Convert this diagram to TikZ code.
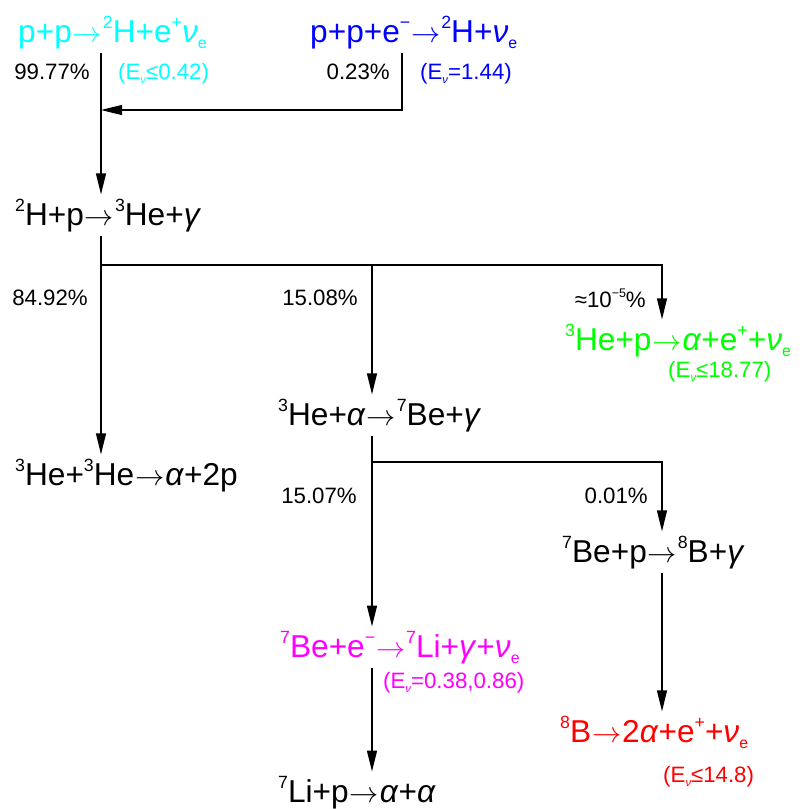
\documentclass[tikz,border=0pt]{standalone}
\usepackage{fontspec}
\setmainfont{Liberation Sans}
\usetikzlibrary{arrows.meta}

\definecolor{ppcol}{RGB}{0,255,255}
\definecolor{pepcol}{RGB}{0,0,255}
\definecolor{hepcol}{RGB}{0,255,0}
\definecolor{beecol}{RGB}{255,0,255}
\definecolor{bbcol}{RGB}{255,0,0}

% raised and lowered small text, reaction arrow
\newcommand\hi[1]{\raisebox{.42em}{\scalebox{.56}{#1}}}
\newcommand\lo[1]{\raisebox{-.2em}{\scalebox{.5}{#1}}}
\newcommand\ra{\kern.03em$\rightarrow$\kern.03em}
\newcommand\nue{\textit{ν}\lo{e}}
\newcommand\Enu{E\lo{\textit{ν}}}

\tikzset{
  reac/.style={anchor=base west, inner xsep=0pt, inner ysep=4pt, font=\fontsize{27}{31}\selectfont},
  frac/.style={anchor=base east, inner sep=0pt, font=\fontsize{19}{22}\selectfont},
  enu/.style={anchor=base west, inner sep=0pt, font=\fontsize{19}{22}\selectfont},
  link/.style={line width=1.3pt},
  flow/.style={line width=1.3pt, -{Triangle[length=18pt,width=8.5pt]}}
}

\begin{document}
\begin{tikzpicture}[x=0.03cm,y=-0.03cm]
\useasboundingbox (0,0) rectangle (801,809);

% Columns and junctions
\coordinate (colA) at (101,0);
\coordinate (colB) at (372,0);
\coordinate (colC) at (662,0);
\coordinate (colD) at (402,0);
\coordinate (j1) at (101,110);
\coordinate (j2) at (101,265);
\coordinate (j3) at (372,462);

% Reactions
\node[reac, ppcol]  (pp)   at (18,42)   {p+p\ra\hi{2}H+e\hi{+}\nue};
\node[reac, pepcol] (pep)  at (310,42)  {p+p+e\hi{−}\ra\hi{2}H+\nue};
\node[reac]         (dp)   at (15,225)  {\hi{2}H+p\ra\hi{3}He+\textit{γ}};
\node[reac]         (hehe) at (15,485)  {\hi{3}He+\hi{3}He\ra\textit{α}+2p};
\node[reac]         (hea)  at (278,425) {\hi{3}He+\textit{α}\ra\hi{7}Be+\textit{γ}};
\node[reac, hepcol] (hep)  at (565,350) {\hi{3}He+p\ra\textit{α}+e\hi{+}+\nue};
\node[reac]         (bep)  at (562,562) {\hi{7}Be+p\ra\hi{8}B+\textit{γ}};
\node[reac, beecol] (bee)  at (280,657) {\hi{7}Be+e\hi{−}\ra\hi{7}Li+\textit{γ}+\nue};
\node[reac]         (lip)  at (278,802) {\hi{7}Li+p\ra\textit{α}+\textit{α}};
\node[reac, bbcol]  (bb)   at (560,742) {\hi{8}B\ra2\textit{α}+e\hi{+}+\nue};

% Neutrino energies
\node[enu, ppcol]  (epp)  at (118,79)  {(\Enu≤0.42)};
\node[enu, pepcol] (epep) at (420,79)  {(\Enu=1.44)};
\node[enu, hepcol] (ehep) at (668,377) {(\Enu≤18.77)};
\node[enu, beecol] (ebee) at (383,688) {(\Enu=0.38,0.86)};
\node[enu, bbcol]  (ebb)  at (663,782) {(\Enu≤14.8)};

% Branching fractions
\node[frac] (f1) at (90,79)   {99.77\%};
\node[frac] (f2) at (390,79)  {0.23\%};
\node[frac] (f3) at (88,305)  {84.92\%};
\node[frac] (f4) at (358,305) {15.08\%};
\node[frac] (f5) at (646,307) {≈10\hi{−5}\%};
\node[frac] (f6) at (357,503) {15.07\%};
\node[frac] (f7) at (648,503) {0.01\%};

% Flow
\draw[link] (pp.south -| colA) -- (j1);
\draw[flow] (j1) -- (dp.north -| colA);
\draw[flow] (pep.south -| colD) |- (j1);
\draw[link] (dp.south -| colA) -- (j2);
\draw[flow] (j2) -- (hehe.north -| colA);
\draw[flow] (j2) -| (hep.north -| colC);
\draw[flow] (j2 -| colB) -- (hea.north -| colB);
\draw[link] (hea.south -| colB) -- (j3);
\draw[flow] (j3) -- (bee.north -| colB);
\draw[flow] (j3) -| (bep.north -| colC);
\draw[flow] (bep.south -| colC) -- (bb.north -| colC);
\draw[flow] (bee.south -| colB) -- (lip.north -| colB);

\end{tikzpicture}
\end{document}
